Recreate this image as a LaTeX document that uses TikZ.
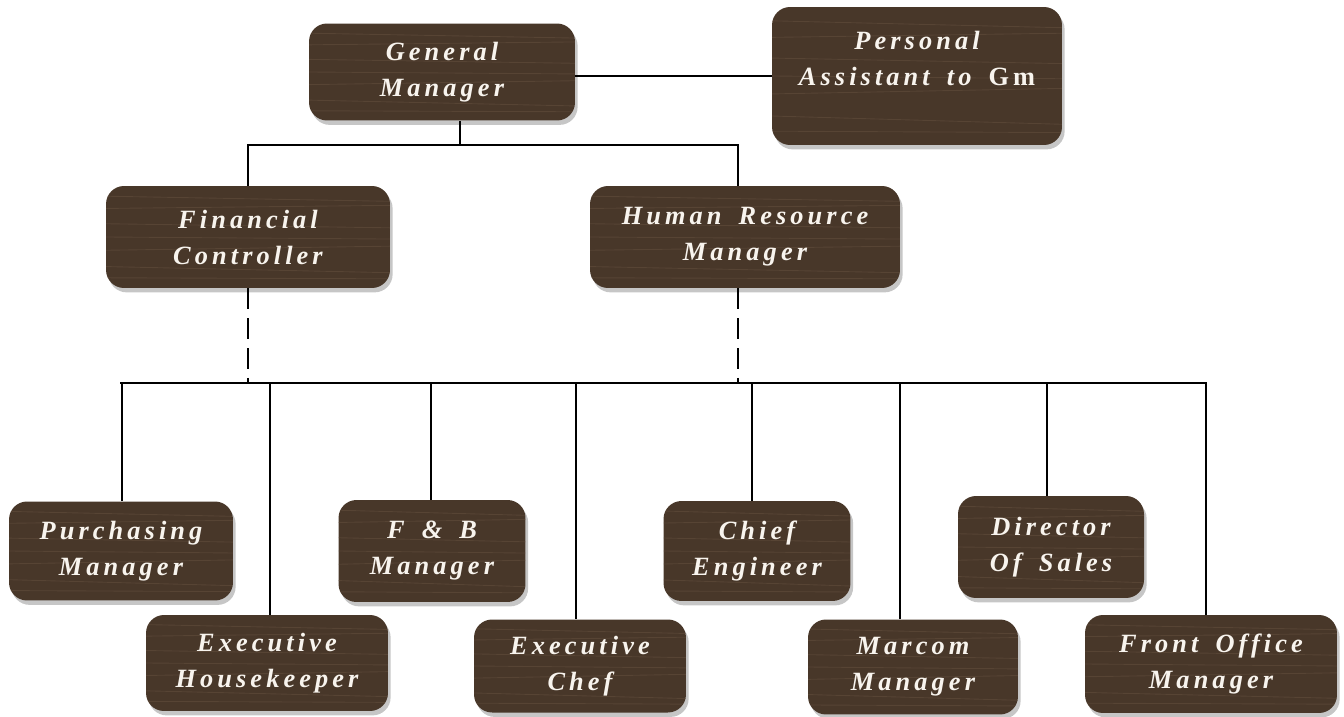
\documentclass[tikz,border=0pt]{standalone}
\usepackage{fontspec}
\usetikzlibrary{calc,shadows}
\setmainfont{Liberation Serif}
\newfontfamily\postfont[LetterSpace=15.5,WordSpace=1.6]{Liberation Serif}
\definecolor{woodbrown}{RGB}{72,55,41}
\definecolor{woodgrain}{RGB}{100,80,62}
\definecolor{postwhite}{RGB}{248,244,238}

\tikzset{
  post/.style={rounded corners=0.36cm, fill=woodbrown, align=center,
    text=postwhite, font=\postfont\bfseries\itshape\fontsize{15}{20.5}\selectfont,
    drop shadow={shadow xshift=1.5pt, shadow yshift=-2.5pt, opacity=0.45},
    path picture={
      \foreach \k/\e in {0.1/0.05,0.22/-0.03,0.37/0.04,0.5/0.02,0.63/-0.04,0.79/0.06,0.9/0.01}
        \draw[woodgrain, line width=0.5pt, opacity=0.55]
          ($(path picture bounding box.north west)!\k!(path picture bounding box.south west)$) --
          ($(path picture bounding box.north east)!\k+\e!(path picture bounding box.south east)$);
    }},
  link/.style={line width=1.1pt},
  dotlink/.style={line width=1.1pt, dash pattern=on 12pt off 5pt}
}

\begin{document}
\begin{tikzpicture}[x=0.02cm,y=0.02cm]
\useasboundingbox (0,0) rectangle (1344,-716);
% top
\node[post, minimum width=5.32cm, minimum height=1.94cm] (gm) at (442,-72) {General\\Manager};
\node[post, minimum width=5.8cm, minimum height=2.76cm] (pa) at (917,-76) {Personal\\Assistant to {\upshape Gm}\\\mbox{}};
% second level
\node[post, minimum width=5.68cm, minimum height=2.04cm] (fc) at (248,-237) {Financial\\Controller};
\node[post, minimum width=6.2cm, minimum height=2.04cm] (hr) at (745,-237) {Human Resource\\Manager};
% third level, upper row
\node[post, minimum width=4.48cm, minimum height=1.98cm] (pm) at (121,-551) {Purchasing\\Manager};
\node[post, minimum width=3.74cm, minimum height=2.04cm] (fb) at (432,-551) {F \& B\\Manager};
\node[post, minimum width=3.74cm, minimum height=2.0cm] (ce) at (757,-551) {Chief\\Engineer};
\node[post, minimum width=3.72cm, minimum height=2.04cm] (ds) at (1051,-547) {Director\\Of Sales};
% third level, lower row
\node[post, minimum width=4.84cm, minimum height=1.92cm] (eh) at (267,-663) {Executive\\Housekeeper};
\node[post, minimum width=4.24cm, minimum height=1.86cm] (ec) at (580,-666) {Executive\\Chef};
\node[post, minimum width=4.2cm, minimum height=1.9cm] (mm) at (913,-667) {Marcom\\Manager};
\node[post, minimum width=5.04cm, minimum height=1.96cm] (fo) at (1211,-664) {Front Office\\Manager};

\coordinate (gmfork) at (460,-145);
\coordinate (busL) at (120,-383);
\coordinate (busR) at (1207,-383);

\draw[link] (gm.east |- pa.west) -- (pa.west);
\draw[link] (gm.south -| gmfork) -- (gmfork);
\draw[link] (fc.north) |- (gmfork) -| ([xshift=-0.14cm]hr.north);
\draw[dotlink] (fc.south) -- (fc.south |- busL);
\draw[dotlink] ([xshift=-0.14cm]hr.south) -- ([xshift=-0.14cm]hr.south |- busL);
\draw[link] (busL) -- (busR);
\foreach \n/\d in {pm/1,eh/3,fb/-1,ec/-4,ce/-5,mm/-13,ds/-4,fo/-5}
  \draw[link] ($(\n.north)+(\d,0)$) -- ($(\n.north |- busL)+(\d,0)$);
\end{tikzpicture}
\end{document}
